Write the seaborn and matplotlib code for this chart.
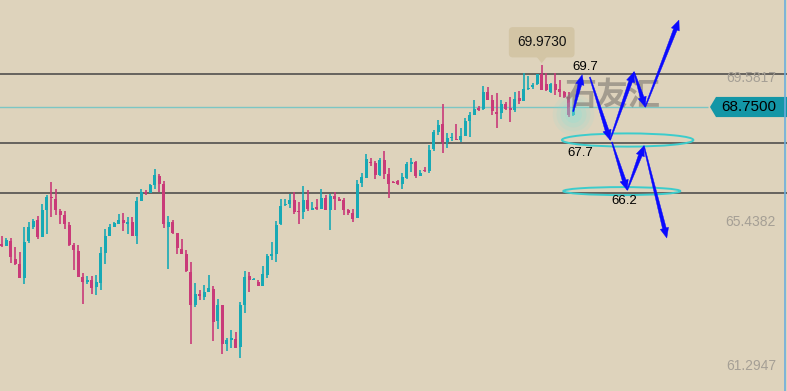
import numpy as np
import matplotlib
matplotlib.use("Agg")
import matplotlib.pyplot as plt
import matplotlib.transforms as mtransforms
from matplotlib.patches import Ellipse, Polygon
import seaborn as sns

# OHLC values (oldest -> newest)
opens = [64.77, 64.76, 64.90, 64.38, 64.23, 63.84, 64.90, 65.30, 65.50, 65.01,
         65.79, 66.13, 66.10, 65.76, 65.64, 65.36, 64.78, 64.61, 63.86, 63.72,
         63.77, 63.57, 63.69, 64.55, 65.04, 65.30, 65.38, 65.50, 65.38, 65.44,
         65.04, 66.05, 66.30, 66.28, 66.51, 66.77, 66.53, 65.30, 65.44, 65.13,
         64.67, 64.52, 64.00, 63.05, 63.37, 63.28, 63.43, 63.51, 62.59, 63.05,
         61.93, 62.05, 62.08, 61.85, 63.05, 63.89, 63.77, 63.72, 63.60, 63.92,
         64.46, 64.52, 65.38, 65.93, 65.96, 66.08, 65.76, 65.73, 66.08, 65.79,
         65.85, 65.82, 66.13, 65.79, 66.19, 66.10, 66.08, 65.79, 65.70, 65.56,
         66.56, 66.71, 67.17, 67.14, 66.79, 67.23, 66.82, 66.59, 66.62, 66.54,
         66.71, 67.11, 67.17, 66.77, 66.94, 66.91, 67.54, 68.03, 68.26, 67.74,
         67.86, 67.83, 67.80, 67.92, 68.35, 68.52, 68.72, 68.69, 69.18, 68.95,
         68.61, 68.58, 68.84, 68.72, 68.66, 69.01, 68.92, 69.27, 69.33, 69.41,
         69.70, 69.40, 69.19, 69.40, 69.26, 69.19, 69.05, 68.52]
highs = [65.04, 64.98, 64.98, 64.72, 64.58, 65.30, 65.44, 65.53, 65.61, 65.96,
         66.22, 66.59, 66.39, 65.82, 65.76, 65.44, 64.84, 64.78, 63.97, 63.89,
         63.89, 63.92, 64.72, 65.24, 65.38, 65.44, 65.67, 65.70, 65.59, 65.59,
         66.16, 66.39, 66.36, 66.53, 66.97, 66.82, 66.62, 65.61, 65.50, 65.13,
         64.95, 64.64, 64.29, 63.69, 63.49, 63.63, 63.92, 63.60, 63.23, 63.05,
         62.10, 62.33, 62.28, 63.14, 64.03, 64.00, 63.83, 63.77, 64.18, 64.52,
         64.87, 65.47, 66.10, 66.10, 66.25, 66.31, 66.02, 66.48, 66.36, 66.02,
         66.10, 66.39, 66.22, 66.25, 66.31, 66.16, 66.13, 65.82, 65.82, 66.65,
         66.85, 67.40, 67.28, 67.20, 67.28, 67.49, 67.00, 66.62, 66.65, 66.85,
         67.17, 67.28, 67.20, 66.94, 67.03, 67.66, 68.09, 68.38, 68.84, 68.00,
         68.00, 68.26, 68.15, 68.43, 68.61, 68.95, 68.78, 69.36, 69.33, 69.10,
         69.15, 68.95, 68.90, 69.04, 69.18, 69.21, 69.73, 69.64, 69.44, 69.70,
         69.973, 69.72, 69.45, 69.72, 69.53, 69.20, 69.19, 68.75]
lows = [64.73, 64.76, 64.27, 64.20, 63.84, 63.67, 64.85, 65.24, 64.96, 65.01,
        65.10, 65.59, 65.64, 65.38, 65.24, 64.75, 64.06, 63.86, 63.08, 63.66,
        63.37, 63.34, 63.49, 64.23, 65.04, 65.30, 65.38, 65.18, 65.10, 65.04,
        64.81, 66.05, 66.22, 66.28, 66.39, 66.30, 65.27, 64.09, 65.10, 64.52,
        64.52, 64.00, 61.93, 63.00, 63.20, 63.20, 63.43, 62.02, 62.36, 61.64,
        61.73, 61.82, 61.82, 61.53, 62.82, 63.43, 63.77, 63.60, 63.60, 63.83,
        64.35, 64.29, 65.36, 65.90, 65.85, 65.67, 65.38, 65.53, 65.76, 65.79,
        65.79, 65.82, 65.79, 65.21, 65.79, 66.05, 65.64, 65.64, 65.44, 65.56,
        66.45, 66.71, 67.05, 66.68, 66.77, 66.68, 66.13, 66.56, 66.51, 66.39,
        66.68, 66.88, 66.71, 66.77, 66.88, 66.85, 67.48, 67.95, 67.43, 67.57,
        67.77, 67.80, 67.74, 67.92, 67.89, 68.52, 68.64, 68.66, 68.95, 68.52,
        68.15, 68.41, 68.66, 68.32, 68.61, 68.84, 68.92, 69.24, 69.27, 69.38,
        69.24, 69.21, 69.15, 69.10, 69.05, 69.00, 68.47, 68.50]
closes = [64.76, 64.92, 64.42, 64.24, 63.84, 64.87, 65.30, 65.47, 65.01, 65.79,
          66.16, 66.12, 65.79, 65.64, 65.38, 64.78, 64.64, 63.86, 63.72, 63.77,
          63.54, 63.72, 64.55, 65.04, 65.30, 65.41, 65.50, 65.41, 65.44, 65.04,
          66.05, 66.30, 66.27, 66.51, 66.79, 66.53, 65.38, 65.44, 65.13, 64.69,
          64.52, 64.03, 63.05, 63.37, 63.31, 63.43, 63.54, 62.57, 63.05, 61.93,
          62.05, 62.08, 61.82, 63.05, 63.86, 63.77, 63.80, 63.60, 63.95, 64.46,
          64.52, 65.36, 65.90, 65.96, 66.08, 65.73, 65.73, 66.08, 65.82, 65.85,
          65.82, 66.13, 65.79, 66.19, 66.10, 66.05, 65.79, 65.70, 65.53, 66.54,
          66.74, 67.26, 67.14, 66.79, 67.23, 66.82, 66.54, 66.56, 66.54, 66.74,
          67.11, 67.17, 66.77, 66.85, 66.91, 67.51, 68.03, 68.23, 67.74, 67.86,
          67.89, 67.80, 67.92, 68.35, 68.52, 68.69, 68.66, 69.18, 68.95, 68.64,
          68.55, 68.84, 68.69, 68.66, 68.98, 68.92, 69.27, 69.30, 69.36, 69.70,
          69.24, 69.24, 69.40, 69.24, 69.19, 69.05, 68.52, 68.72]

levels = [69.7, 67.7, 66.27]          # drawn support/resistance lines
level_labels = ["69.7", "67.7", "66.2"]
axis_prices = ["69.5817", "65.4382", "61.2947"]
last_price = 68.75

# forecast arrows (bar index, price)
arrow_paths = [
    [(127.0, 68.62), (129.0, 69.68)],
    [(130.7, 69.61), (135.2, 67.80), (140.5, 69.76), (143.0, 68.75), (150.5, 71.25)],
    [(135.6, 67.74), (139.0, 66.36), (142.7, 67.63), (147.8, 64.98)],
]

BG = "#ded3bc"
UP = "#17a9b5"
DOWN = "#c93a79"

sns.set_theme(style="white")
plt.rcParams["font.family"] = ["Liberation Sans", "Noto Sans CJK SC", "DejaVu Sans"]

fig = plt.figure(figsize=(7.87, 3.91), dpi=100)
fig.patch.set_facecolor(BG)
ax = fig.add_axes([0, 0, 1, 1])
ax.set_facecolor(BG)
for s in ax.spines.values():
    s.set_visible(False)
ax.set_xticks([])
ax.set_yticks([])
ax.set_xlim(-0.378, 174.51)
ax.set_ylim(60.578, 71.829)

o = np.array(opens)
h = np.array(highs)
l = np.array(lows)
c = np.array(closes)
idx = np.arange(len(o))
cols = [UP if cc > oo else DOWN for oo, cc in zip(o, c)]

# level lines
for lv in levels:
    ax.axhline(lv, color="#5c5a57", lw=1.3, zorder=1)
ax.hlines(last_price, -1, 157, color="#7cc6c4", lw=1.0, zorder=1)

# candles
ax.vlines(idx, l, h, colors=cols, lw=1.2, zorder=3)
ax.bar(idx, np.maximum(np.abs(c - o), 0.04), bottom=np.minimum(o, c), width=0.74,
       color=cols, linewidth=0, zorder=4)

# glow on the last bar
for s, a in [(900, 0.10), (600, 0.12), (350, 0.15), (150, 0.18)]:
    ax.scatter([idx[-1]], [68.55], s=s, color="#7fe3dc", alpha=a, lw=0, zorder=5)

# axis price labels (right side)
blend = mtransforms.blended_transform_factory(ax.transAxes, ax.transData)
for lab in axis_prices:
    ax.text(776 / 787, float(lab), lab, transform=blend, ha="right", va="center",
            fontsize=10, color="#a59f95", zorder=6)

# last price tag
half = 0.29
tag = Polygon([(710 / 787, last_price), (716 / 787, last_price + half), (1.0, last_price + half),
               (1.0, last_price - half), (716 / 787, last_price - half)],
              closed=True, transform=blend, fc="#1396a6", ec="none", zorder=6)
ax.add_patch(tag)
ax.text(749 / 787, last_price, f"{last_price:.4f}", transform=blend, ha="center", va="center",
        fontsize=11, color="black", zorder=7)

# high tooltip
top = int(np.argmax(h))
ax.text(top, h[top] + 0.64, f"{h[top]:.4f}", ha="center", va="center", fontsize=9.8,
        color="#111111", zorder=7,
        bbox=dict(boxstyle="round,pad=0.6,rounding_size=0.3", fc="#d3c5a5", ec="none"))
ax.add_patch(Polygon([(top - 1.5, h[top] + 0.28), (top + 1.5, h[top] + 0.28), (top, h[top] + 0.04)],
                     closed=True, fc="#d3c5a5", ec="none", zorder=7))

# target ellipses
ax.add_patch(Ellipse((139.1, 67.80), 29.2, 0.38, fill=False, ec="#3ccccc", lw=1.4, zorder=5))
ax.add_patch(Ellipse((137.8, 66.33), 26.0, 0.23, fill=False, ec="#3ccccc", lw=1.4, zorder=5))

# watermark
ax.text(135.8, 69.07, "石友汇", ha="center", va="center", fontsize=23, fontweight="bold",
        family=["Noto Sans CJK SC"], color="#7d7871", alpha=0.6, zorder=6)

# level labels
ax.text(129.6, 69.90, level_labels[0], ha="center", va="center", fontsize=9.5, color="black", zorder=8)
ax.text(128.5, 67.43, level_labels[1], ha="center", va="center", fontsize=9.5, color="black", zorder=8)
ax.text(138.3, 66.05, level_labels[2], ha="center", va="center", fontsize=9.5, color="black", zorder=8)


def tapered_arrow(p0, p1, w0=1.0, w1=3.8, hw=8.5, hl=10.0):
    a = np.array(ax.transData.transform(p0))
    b = np.array(ax.transData.transform(p1))
    d = b - a
    L = np.hypot(*d)
    u = d / L
    n = np.array([-u[1], u[0]])
    base = b - u * hl
    pts = [a + n * w0 / 2, base + n * w1 / 2, base + n * hw / 2, b,
           base - n * hw / 2, base - n * w1 / 2, a - n * w0 / 2]
    fig.patches.append(Polygon(pts, closed=True, transform=None, fc="#0a0aff", ec="#0a0aff",
                               lw=0.3, zorder=9, figure=fig))


for path in arrow_paths:
    for p0, p1 in zip(path[:-1], path[1:]):
        tapered_arrow(p0, p1)

# right border
ax.plot([785 / 787, 785 / 787], [0, 1], transform=ax.transAxes, color="#6aaede", lw=1.2, zorder=9)

fig.savefig("out.png", dpi=100, facecolor=BG)
